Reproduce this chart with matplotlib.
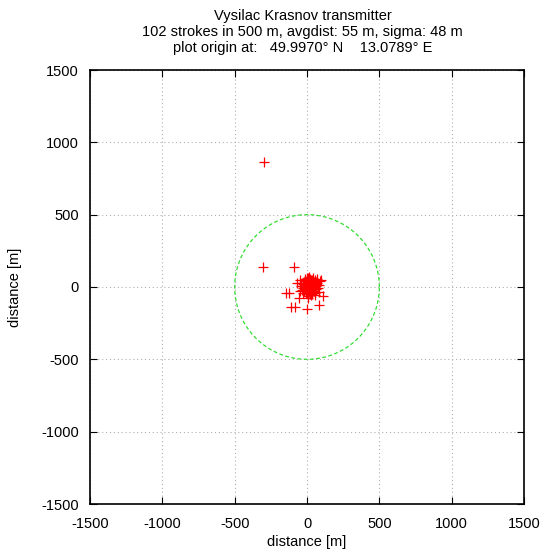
import matplotlib
matplotlib.use("Agg")
import matplotlib.pyplot as plt
import numpy as np

plt.rcParams['font.family'] = ['Liberation Sans', 'DejaVu Sans']

title_lines = ["Vysilac Krasnov transmitter",
               "102 strokes in 500 m, avgdist: 55 m, sigma: 48 m",
               "plot origin at:   49.9970\u00b0 N    13.0789\u00b0 E"]
ticks = [-1500, -1000, -500, 0, 500, 1000, 1500]
radius = 500

outliers_x = [-297, -304, -92, -143, -124, -108, -85, -2, 83, 113, 99, -55, 7, -48, -67]
outliers_y = [867, 141, 141, -41, -41, -136, -138, -152, -124, -64, 46, -76, -76, 51, 30]

cluster = [(10,5),(15,12),(20,-3),(5,20),(25,18),(-5,8),(30,-10),(12,-20),(0,-5),(18,30),
(35,5),(-12,-15),(22,-25),(8,40),(40,22),(-20,10),(28,45),(45,-5),(-8,30),(15,-35),
(50,15),(3,-30),(-25,-5),(38,-22),(20,55),(-15,40),(55,30),(60,-15),(-30,20),(10,60),
(-2,50),(32,32),(48,-30),(-18,-28),(26,2),(14,22),(6,-12),(42,40),(-10,-40),(65,5),
(70,25),(-35,-20),(24,-45),(2,12),(18,-8),(36,14),(-6,-22),(52,48),(12,35),(30,-38),
(75,-10),(-40,5),(0,65),(44,0),(8,28),(22,10),(16,-2),(28,24),(-4,2),(34,-4),
(10,-50),(-22,30),(58,-40),(85,15),(40,60),(-28,-40),(4,-60),(62,38),(20,-15),(12,8),
(25,-55),(-45,-30),(80,-35),(-12,55),(48,28),(35,50),(6,0),(17,17),(27,-18),(-15,-8),
(90,40),(-50,25),(55,-55),(2,-40),(38,-48),(15,70),(70,55)]
cluster_x = [p[0] for p in cluster]
cluster_y = [p[1] for p in cluster]

xs = outliers_x + cluster_x
ys = outliers_y + cluster_y

fig = plt.figure(figsize=(5.44, 5.50), dpi=100)
ax = fig.add_axes([90/544, 46/550, 434/544, 434/550])

ax.plot(xs, ys, linestyle='none', marker='+', color='red', markersize=6.5, mew=0.9, zorder=3)

t = np.linspace(0, 2*np.pi, 400)
ax.plot(radius*np.cos(t), radius*np.sin(t), color='#33dd33', lw=0.9, dashes=(3, 2), zorder=2)

ax.set_xlim(-1500, 1500)
ax.set_ylim(-1500, 1500)
ax.set_xticks(ticks)
ax.set_yticks(ticks)
ax.set_xticklabels([str(v) for v in ticks], fontsize=10.5)
ax.set_yticklabels([str(v) for v in ticks], fontsize=10.5)
ax.tick_params(direction='in', top=True, right=True, length=5, width=0.8)
ax.tick_params(axis='x', pad=9)
ax.tick_params(axis='y', pad=8)
ax.set_axisbelow(True)
ax.grid(True, color='#b0b0b0', linestyle=(0, (1, 2.5)), lw=0.8)
for s in ax.spines.values():
    s.set_linewidth(1.2)
ax.set_xlabel("distance [m]", fontsize=10.5, labelpad=3)
ax.set_ylabel("distance [m]", fontsize=10.5, labelpad=14)

fig.text(0.556, 1 - 16/550, title_lines[0], ha='center', va='center', fontsize=10.5)
fig.text(0.556, 1 - 32/550, title_lines[1], ha='center', va='center', fontsize=10.5)
fig.text(0.556, 1 - 48/550, title_lines[2], ha='center', va='center', fontsize=10.5)

fig.savefig("out.png", dpi=100)
